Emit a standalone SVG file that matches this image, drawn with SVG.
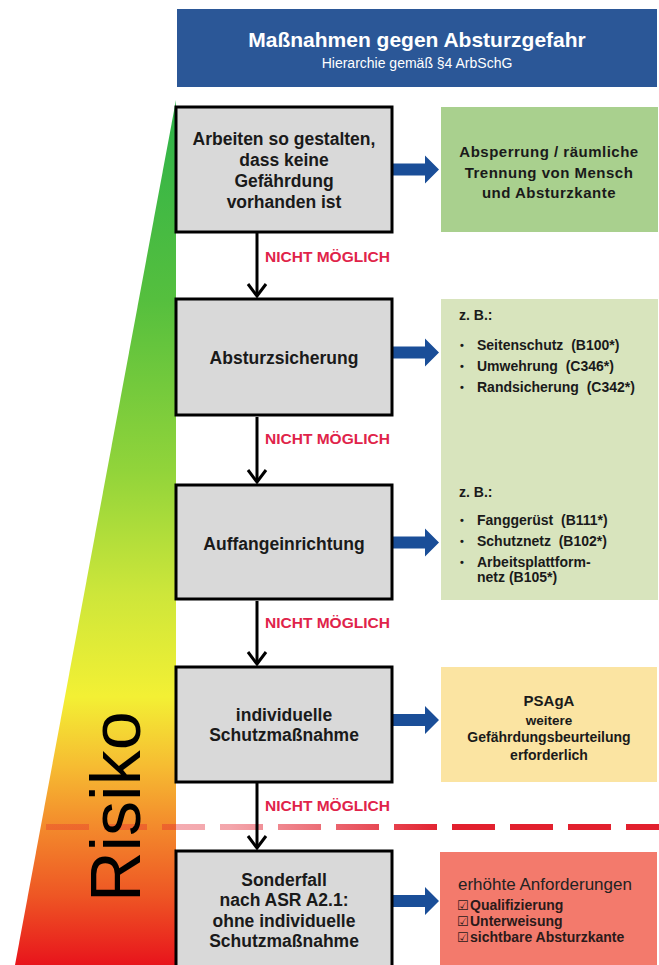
<svg xmlns="http://www.w3.org/2000/svg" width="659" height="965" viewBox="0 0 659 965">
<defs>
<style>
text{font-family:"Liberation Sans",Arial,sans-serif;}
.bx{fill:#d9d9d9;stroke:#000;stroke-width:3;}
.bt{font-size:17.5px;font-weight:bold;fill:#1a1a1a;text-anchor:middle;}
.nm{font-size:15.5px;font-weight:bold;fill:#e0234a;}
.dn{fill:none;stroke:#000;stroke-width:3;marker-end:url(#head);}
.blue{fill:#1a4e98;}
.li{font-size:14px;font-weight:bold;fill:#1a1a1a;white-space:pre;}
.bu{font-size:11px;font-weight:bold;fill:#1a1a1a;}
.ck{font-size:14px;font-weight:bold;fill:#2a1a1a;}
.cb{font-size:13px;font-weight:bold;fill:#2a1a1a;font-family:"DejaVu Sans",sans-serif;}
</style>
<linearGradient id="risk" gradientUnits="userSpaceOnUse" x1="0" y1="100" x2="0" y2="965">
<stop offset="0" stop-color="#2db34a"/>
<stop offset="0.23" stop-color="#55bf3e"/>
<stop offset="0.43" stop-color="#92d43a"/>
<stop offset="0.57" stop-color="#cde63a"/>
<stop offset="0.69" stop-color="#f3f034"/>
<stop offset="0.77" stop-color="#f6bc32"/>
<stop offset="0.84" stop-color="#f38a2c"/>
<stop offset="0.92" stop-color="#ee5624"/>
<stop offset="1" stop-color="#e8141c"/>
</linearGradient>
<linearGradient id="dash" gradientUnits="userSpaceOnUse" x1="46" y1="0" x2="659" y2="0">
<stop offset="0" stop-color="#e2202e" stop-opacity="0.3"/>
<stop offset="0.3" stop-color="#e2202e" stop-opacity="0.4"/>
<stop offset="0.65" stop-color="#e2202e" stop-opacity="1"/>
<stop offset="1" stop-color="#e2202e" stop-opacity="1"/>
</linearGradient>
<marker id="head" markerUnits="userSpaceOnUse" markerWidth="30" markerHeight="30" viewBox="-15 -15 30 30" refX="0" refY="0" orient="auto">
<path d="M-12,-9 L0,0 L-12,9" fill="none" stroke="#000" stroke-width="3"/>
</marker>
<path id="barrow" d="M0,-6 L33,-6 L33,-14 L47,0 L33,14 L33,6 L0,6 Z"/>
</defs>

<rect width="659" height="965" fill="#ffffff"/>

<polygon points="176,100 176,965 15,965" fill="url(#risk)"/>
<line x1="46" y1="827" x2="659" y2="827" stroke="url(#dash)" stroke-width="6" stroke-dasharray="43 15"/>
<text transform="translate(140,902) rotate(-90)" font-size="70" fill="#000">Risiko</text>

<g id="header">
<rect x="177" y="9" width="480" height="78" fill="#2b5797"/>
<text x="417" y="47" font-size="21" font-weight="bold" fill="#fff" text-anchor="middle">Maßnahmen gegen Absturzgefahr</text>
<text x="417" y="68" font-size="14" fill="#fff" text-anchor="middle">Hierarchie gemäß §4 ArbSchG</text>
</g>

<g id="connectors">
<line class="dn" x1="257" y1="233" x2="257" y2="296"/>
<line class="dn" x1="257" y1="417" x2="257" y2="482"/>
<line class="dn" x1="257" y1="601" x2="257" y2="664"/>
<line class="dn" x1="257" y1="783" x2="257" y2="848"/>
<text class="nm" x="265" y="262">NICHT MÖGLICH</text>
<text class="nm" x="265" y="444">NICHT MÖGLICH</text>
<text class="nm" x="265" y="628">NICHT MÖGLICH</text>
<text class="nm" x="265" y="811">NICHT MÖGLICH</text>
<use href="#barrow" class="blue" transform="translate(392,169.5)"/>
<use href="#barrow" class="blue" transform="translate(392,352.5)"/>
<use href="#barrow" class="blue" transform="translate(392,542.5)"/>
<use href="#barrow" class="blue" transform="translate(392,720)"/>
<use href="#barrow" class="blue" transform="translate(392,901)"/>
</g>

<g id="box1">
<rect class="bx" x="176" y="107" width="216" height="125"/>
<text class="bt" x="284" y="145">Arbeiten so gestalten,</text>
<text class="bt" x="284" y="166">dass keine</text>
<text class="bt" x="284" y="187">Gefährdung</text>
<text class="bt" x="284" y="208">vorhanden ist</text>
</g>
<g id="box2">
<rect class="bx" x="176" y="299" width="216" height="116"/>
<text class="bt" x="284" y="364">Absturzsicherung</text>
</g>
<g id="box3">
<rect class="bx" x="176" y="485" width="216" height="114"/>
<text class="bt" x="284" y="550">Auffangeinrichtung</text>
</g>
<g id="box4">
<rect class="bx" x="176" y="667" width="216" height="115"/>
<text class="bt" x="284" y="721">individuelle</text>
<text class="bt" x="284" y="741">Schutzmaßnahme</text>
</g>
<g id="box5">
<rect class="bx" x="176" y="851" width="216" height="130"/>
<text class="bt" x="284" y="886">Sonderfall</text>
<text class="bt" x="284" y="906">nach ASR A2.1:</text>
<text class="bt" x="284" y="927">ohne individuelle</text>
<text class="bt" x="284" y="947">Schutzmaßnahme</text>
</g>

<g id="right1">
<rect x="441" y="107" width="217" height="125" fill="#a9d08e"/>
<g font-size="15" font-weight="bold" fill="#1a1a1a" text-anchor="middle" letter-spacing="0.5">
<text x="549" y="157">Absperrung / räumliche</text>
<text x="549" y="178">Trennung von Mensch</text>
<text x="549" y="198">und Absturzkante</text>
</g>
</g>

<g id="right2">
<rect x="441" y="299" width="217" height="301" fill="#d8e4bd"/>
<text class="li" x="459" y="320" font-size="13">z. B.:</text>
<text class="bu" x="460" y="349">•</text><text class="li" x="477" y="350">Seitenschutz  (B100*)</text>
<text class="bu" x="460" y="370">•</text><text class="li" x="477" y="371">Umwehrung  (C346*)</text>
<text class="bu" x="460" y="391">•</text><text class="li" x="477" y="392">Randsicherung  (C342*)</text>
<text class="li" x="459" y="497" font-size="13">z. B.:</text>
<text class="bu" x="460" y="524">•</text><text class="li" x="477" y="525">Fanggerüst  (B111*)</text>
<text class="bu" x="460" y="545">•</text><text class="li" x="477" y="546">Schutznetz  (B102*)</text>
<text class="bu" x="460" y="566">•</text><text class="li" x="477" y="567">Arbeitsplattform-</text>
<text class="li" x="477" y="582">netz (B105*)</text>
</g>

<g id="right3">
<rect x="441" y="667" width="216" height="115" fill="#fbe4a2"/>
<g font-weight="bold" fill="#1a1a1a" text-anchor="middle">
<text x="549" y="706" font-size="15">PSAgA</text>
<text x="549" y="725" font-size="13.5">weitere</text>
<text x="549" y="742" font-size="14">Gefährdungsbeurteilung</text>
<text x="549" y="760" font-size="14">erforderlich</text>
</g>
</g>

<g id="right4">
<rect x="440" y="852" width="217" height="130" fill="#f37a6c"/>
<text x="458" y="890" font-size="17" fill="#222">erhöhte Anforderungen</text>
<text class="cb" x="457" y="910">☑</text>
<text class="ck" x="470" y="910">Qualifizierung</text>
<text class="cb" x="457" y="926">☑</text>
<text class="ck" x="470" y="926">Unterweisung</text>
<text class="cb" x="457" y="942">☑</text>
<text class="ck" x="470" y="942">sichtbare Absturzkante</text>
</g>
</svg>
